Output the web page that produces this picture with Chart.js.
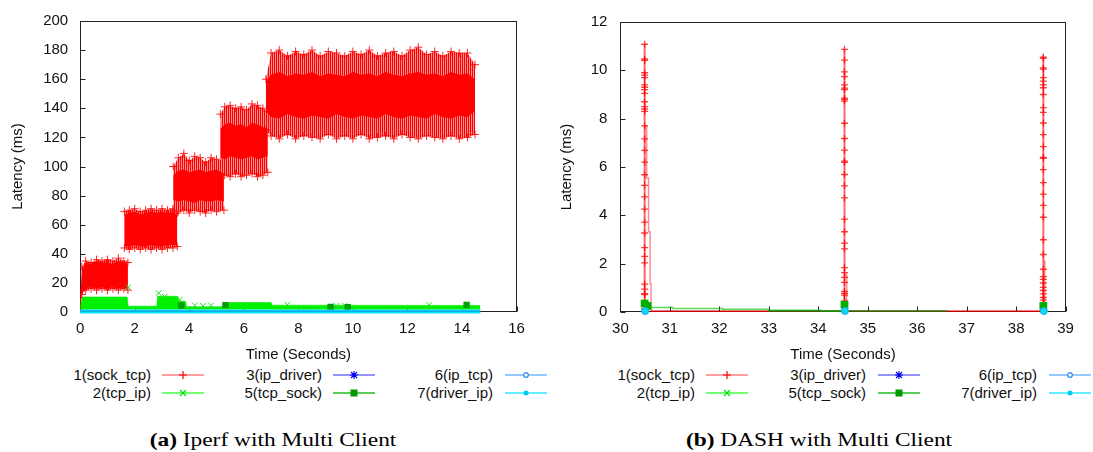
<!DOCTYPE html>
<html><head><meta charset="utf-8">
<script src="https://cdn.jsdelivr.net/npm/chart.js@4.4.0/dist/chart.umd.min.js"></script>
<style>
body{margin:0;background:#fff;width:1093px;height:452px;overflow:hidden;position:relative;font-family:"Liberation Sans",Arial,sans-serif;}
canvas{position:absolute;top:0;}
.lt{position:absolute;font-size:15px;line-height:18px;color:#111;white-space:nowrap;transform:translateX(-100%);}
.ls{position:absolute;}
.cap{position:absolute;top:429px;font-family:"Liberation Serif","Times New Roman",serif;font-size:19px;line-height:22px;color:#000;white-space:nowrap;transform:translateX(-50%) scaleX(1.23);}
</style>
</head><body>
<canvas id="ca" width="540" height="366" style="left:0"></canvas>
<canvas id="cb" width="553" height="366" style="left:540px"></canvas>
<div class="cap" style="left:273px"><b>(a)</b> Iperf with Multi Client</div>
<div class="cap" style="left:819px"><b>(b)</b> DASH with Multi Client</div>
<script>
// ---------------- (a) Iperf with Multi Client ----------------
const aXTicks = [0, 2, 4, 6, 8, 10, 12, 14, 16];
const aYTicks = [0, 20, 40, 60, 80, 100, 120, 140, 160, 180, 200];
// sock_tcp bands: per step, time points with outer (sparse) and core (dense) envelopes
const sockT = [
  [0, 0.06, 0.2, 0.4, 0.6, 0.8, 1.0, 1.2, 1.4, 1.6, 1.75],
  [1.62, 1.8, 2.0, 2.2, 2.4, 2.6, 2.8, 3.0, 3.2, 3.4, 3.56],
  [3.41, 3.6, 3.8, 4.0, 4.2, 4.4, 4.6, 4.8, 5.0, 5.27],
  [5.14, 5.3, 5.5, 5.7, 5.9, 6.1, 6.3, 6.5, 6.7, 6.88],
  [6.81, 7.0, 7.3, 7.6, 7.9, 8.2, 8.5, 8.8, 9.1, 9.4, 9.7, 10.0, 10.3, 10.6, 10.9, 11.2, 11.5, 11.8, 12.1, 12.4, 12.7, 13.0, 13.3, 13.6, 13.9, 14.2, 14.48]
];
const sockOutHi = [
  [10, 31, 35, 34, 36, 35, 36, 35, 37, 35, 34],
  [69, 70, 71, 69, 70, 71, 70, 71, 70, 71, 68],
  [100, 106, 109, 104, 107, 106, 103, 106, 105, 104],
  [136, 141, 142, 140, 141, 139, 143, 142, 140, 138],
  [160, 178, 180, 176, 179, 177, 180, 176, 179, 178, 176, 179, 177, 180, 176, 178, 179, 176, 180, 182, 177, 179, 176, 179, 178, 178, 170]
];
const sockOutLo = [
  [2, 12, 15, 16, 15, 16, 15, 16, 15, 16, 15],
  [44, 43, 44, 43, 44, 43, 44, 43, 44, 44, 45],
  [70, 69, 70, 68, 70, 69, 68, 70, 69, 70],
  [95, 94, 93, 95, 93, 94, 95, 93, 94, 96],
  [125, 121, 119, 122, 119, 121, 120, 119, 122, 119, 121, 119, 122, 119, 120, 121, 119, 122, 120, 119, 121, 120, 119, 121, 119, 120, 122]
];
const sockCoreHi = [
  [7, 28, 34, 33, 35, 34, 34, 33, 35, 34, 33],
  [67, 68, 69, 67, 68, 69, 68, 69, 68, 69, 66],
  [94, 97, 98, 96, 97, 98, 96, 97, 98, 95],
  [126, 129, 130, 128, 129, 127, 130, 129, 127, 126],
  [158, 163, 165, 162, 164, 163, 165, 162, 164, 163, 162, 165, 163, 164, 162, 165, 163, 162, 164, 165, 163, 164, 162, 165, 163, 164, 160]
];
const sockCoreLo = [
  [3, 13, 16, 17, 16, 17, 16, 17, 16, 17, 16],
  [45, 45, 46, 45, 45, 46, 45, 45, 46, 46, 46],
  [77, 76, 77, 76, 75, 77, 76, 76, 77, 76],
  [106, 105, 107, 106, 105, 106, 107, 105, 106, 107],
  [138, 134, 133, 136, 134, 133, 135, 134, 133, 136, 134, 133, 135, 134, 133, 136, 134, 133, 135, 134, 133, 136, 134, 133, 135, 134, 138]
];
// tcp_ip band
const tcpIpT  = [0.0, 0.05, 0.1, 1.72, 1.76, 2.81, 2.84, 3.58, 3.62, 3.86, 3.9, 5.2, 5.24, 7.0, 7.04, 14.67];
const tcpIpHi = [3, 8, 10.3, 10.3, 4, 4, 10.8, 10.8, 7.4, 7.4, 3.6, 3.6, 6.5, 6.5, 4.7, 4.5];
const tcpIpLo = [1.8, 1.8, 1.8, 1.8, 1.8, 1.8, 1.8, 1.8, 1.8, 1.8, 1.8, 1.8, 1.8, 1.8, 1.8, 1.8];
const tcpIpMarkT = [1.76, 2.88, 3.1, 3.65, 4.2, 4.5, 4.8, 7.6, 9.4, 9.7, 12.8];
const tcpIpMarkV = [17, 13, 10.5, 8.5, 4.5, 4.2, 4.4, 5.0, 4.2, 4.5, 4.8];
// tcp_sock squares
const tcpSockT = [3.71, 5.33, 9.18, 9.81, 14.17];
const tcpSockV = [4.5, 4.7, 3.5, 3.3, 4.8];
// lower series (ip_driver, ip_tcp, driver_ip) near zero
const lowT = [0, 14.67];
const ipDriverA = [0.6, 0.6];
const ipTcpA = [0.35, 0.35];
const driverIpA = [0.3, 0.3];

// ---------------- (b) DASH with Multi Client ----------------
const bXTicks = [30, 31, 32, 33, 34, 35, 36, 37, 38, 39];
const bYTicks = [0, 2, 4, 6, 8, 10, 12];
const spikeT = [30.49, 34.53, 38.55];
const spikeV = [
  [0, 0.14, 0.4, 0.72, 0.76, 0.95, 1.15, 2.03, 2.3, 2.66, 3.27, 3.72, 4.26, 4.76, 5.24, 5.68, 6.2, 6.69, 7.16, 7.7, 8.3, 8.4, 8.5, 8.7, 9.05, 9.2, 9.3, 9.4, 9.7, 9.8, 9.9, 10.41, 10.47, 11.08],
  [0, 0.42, 0.45, 0.7, 0.77, 0.85, 1.23, 1.43, 1.63, 1.84, 2.61, 2.85, 3.32, 3.84, 4.72, 5.22, 5.69, 6.19, 6.24, 6.7, 7.18, 7.81, 8.73, 8.8, 8.85, 9.2, 9.26, 9.4, 9.74, 9.94, 10.42, 10.87],
  [0, 0.28, 0.49, 0.6, 0.75, 0.89, 1.02, 1.2, 1.35, 1.46, 1.77, 2.38, 2.99, 3.92, 4.41, 4.88, 5.35, 5.89, 6.36, 6.4, 6.84, 7.34, 7.82, 8.26, 8.46, 9.0, 9.28, 9.4, 9.55, 9.7, 10.05, 10.1, 10.5, 10.55]
];
const decayT = [
  [30.49, 30.53, 30.53, 30.57, 30.57, 30.60, 30.60, 30.62, 30.62, 30.66],
  [34.53, 34.575, 34.575, 34.6],
  [38.55, 38.58, 38.58, 38.6]
];
const decayV = [
  [7.7, 7.7, 5.55, 5.55, 3.32, 3.32, 1.17, 1.17, 0.03, 0.03],
  [1.55, 1.55, 0.03, 0.03],
  [2.1, 2.1, 0.03, 0.03]
];
const sockBaseT = [30.62, 38.55];
const sockBaseV = [0.03, 0.03];
const bTcpIpT = [30.49, 30.63, 31.06, 31.06, 32.07, 32.07, 33.0, 33.0, 34.05, 34.05, 34.53];
const bTcpIpV = [0.25, 0.19, 0.19, 0.15, 0.15, 0.11, 0.11, 0.07, 0.07, 0.03, 0.03];
const bTcpSockT = [30.49, 30.55, 34.53, 38.55];
const bTcpSockV = [0.35, 0.25, 0.3, 0.25];
const bTcpSockLineT = [33.0, 36.6];
const bTcpSockLineV = [0.04, 0.04];
const bLowT = [30.5, 34.54, 38.56];
const bLowV = [0.04, 0.04, 0.04];

// ---------------- legend ----------------
const legendCols = [['1(sock_tcp)', '2(tcp_ip)'], ['3(ip_driver)', '5(tcp_sock)'], ['6(ip_tcp)', '7(driver_ip)']];
const legendStyle = {
  '1(sock_tcp)': {line: '#ff8080', mark: 'plus', mc: '#ff0000'},
  '2(tcp_ip)': {line: '#44ff44', mark: 'x', mc: '#00e000'},
  '3(ip_driver)': {line: '#7070ff', mark: 'star', mc: '#0000ee'},
  '5(tcp_sock)': {line: '#22bb22', mark: 'square', mc: '#009900'},
  '6(ip_tcp)': {line: '#70b8ff', mark: 'circle', mc: '#2288ee'},
  '7(driver_ip)': {line: '#30e8ff', mark: 'dot', mc: '#00ccee'}
};

const FONT = '"Liberation Sans", Arial, sans-serif';
const pts = (xs, ys) => xs.map((x, i) => ({x: x, y: ys[i]}));
const ptsAt = (x, ys) => ys.map(y => ({x: x, y: y}));

function hatch() {
  const c = document.createElement('canvas'); c.width = 2; c.height = 4;
  const g = c.getContext('2d');
  g.fillStyle = '#ff9090'; g.fillRect(0, 0, 2, 4);
  g.fillStyle = '#ff0000'; g.fillRect(0, 0, 1, 4);
  return g.createPattern(c, 'repeat');
}

const frame = {
  id: 'frame',
  beforeDatasetsDraw(chart) {
    const {ctx, chartArea: a, scales: {x, y}} = chart;
    ctx.save();
    ctx.strokeStyle = '#222'; ctx.lineWidth = 1;
    const L = Math.round(a.left) + 0.5, R = Math.round(a.right) - 0.5, T = Math.round(a.top) + 0.5, B = Math.round(a.bottom) - 0.5;
    ctx.strokeRect(L, T, R - L, B - T);
    ctx.beginPath();
    x.ticks.forEach(t => { const p = Math.round(x.getPixelForValue(t.value)) + 0.5; ctx.moveTo(p, B); ctx.lineTo(p, B - 5); });
    y.ticks.forEach(t => { const p = Math.round(y.getPixelForValue(t.value)) + 0.5; ctx.moveTo(L, p); ctx.lineTo(L + 5, p); });
    ctx.stroke();
    ctx.restore();
  }
};

function options(xT, yT, yWidth, padRight, yTitlePad, yTickPad) {
  return {
    responsive: false, animation: false, events: [],
    layout: {padding: {top: 16, right: padRight, bottom: 2, left: 0}},
    plugins: {legend: {display: false}, tooltip: {enabled: false}},
    elements: {line: {tension: 0}, point: {radius: 0}},
    scales: {
      x: {type: 'linear', min: xT[0], max: xT[xT.length - 1],
        afterBuildTicks: s => { s.ticks = xT.map(v => ({value: v})); },
        afterFit: s => { s.height = 52; },
        grid: {display: false, drawTicks: false}, border: {display: false},
        ticks: {padding: 8, color: '#111', font: {family: FONT, size: 15}, maxRotation: 0, autoSkip: false},
        title: {display: true, text: 'Time (Seconds)', color: '#111', font: {family: FONT, size: 15}, padding: {top: 0, bottom: 0}}},
      y: {type: 'linear', min: yT[0], max: yT[yT.length - 1],
        afterBuildTicks: s => { s.ticks = yT.map(v => ({value: v})); },
        afterFit: s => { s.width = yWidth; },
        grid: {display: false, drawTicks: false}, border: {display: false},
        ticks: {padding: yTickPad, color: '#111', font: {family: FONT, size: 15}, autoSkip: false},
        title: {display: true, text: 'Latency (ms)', color: '#111', font: {family: FONT, size: 15}, padding: {top: yTitlePad, bottom: 0}}}
    }
  };
}

function makeDS() {
  let layer = 0;
  const list = [];
  const add = (data, o) => {
    layer++;
    list.push(Object.assign({data: data, order: 1000 - layer, pointRadius: 0, borderWidth: 1,
      borderColor: 'rgba(0,0,0,0)', backgroundColor: 'rgba(0,0,0,0)', fill: false}, o));
  };
  return {list, add};
}

// ----- chart (a)
const A = makeDS();
const hp = hatch();
sockT.forEach((t, i) => {
  A.add(pts(t, sockOutHi[i]), {fill: '+1', backgroundColor: hp, pointRadius: 4, pointStyle: 'cross', pointBorderColor: 'rgba(255,0,0,0.85)', pointBorderWidth: 1});
  A.add(pts(t, sockOutLo[i]), {pointRadius: 4, pointStyle: 'cross', pointBorderColor: 'rgba(255,0,0,0.85)', pointBorderWidth: 1});
});
sockT.forEach((t, i) => {
  A.add(pts(t, sockCoreHi[i]), {fill: '+1', backgroundColor: '#ff0000'});
  A.add(pts(t, sockCoreLo[i]), {});
});
A.add(pts(tcpIpT, tcpIpHi), {fill: '+1', backgroundColor: '#00f000', borderColor: 'rgba(0,230,0,0.6)'});
A.add(pts(tcpIpT, tcpIpLo), {});
A.add(pts(tcpIpMarkT, tcpIpMarkV), {showLine: false, pointRadius: 4, pointStyle: 'crossRot', pointBorderColor: '#22dd22', pointBorderWidth: 1});
A.add(pts(tcpSockT, tcpSockV), {showLine: false, pointRadius: 4.5, pointStyle: 'rect', pointBackgroundColor: '#00a000', pointBorderColor: '#00a000', pointBorderWidth: 0});
A.add(pts(lowT, ipTcpA), {borderColor: '#66b0ff', borderWidth: 3, clip: false});
A.add(pts(lowT, driverIpA), {borderColor: '#00e8f8', borderWidth: 4, clip: false});
A.add(pts(lowT, ipDriverA), {borderColor: 'rgba(40,60,200,0.55)', borderWidth: 1, clip: false});

new Chart(document.getElementById('ca'), {type: 'line', data: {datasets: A.list},
  options: options(aXTicks, aYTicks, 80.2, 23.5, 8.6, 12), plugins: [frame]});

// ----- chart (b)
const B = makeDS();
B.add(pts(sockBaseT, sockBaseV), {borderColor: '#c80000', borderWidth: 1.5, clip: false});
spikeT.forEach((t, i) => {
  B.add(pts(decayT[i], decayV[i]), {borderColor: 'rgba(255,0,0,0.45)', borderWidth: 1.5});
  B.add(ptsAt(t, spikeV[i]), {borderColor: 'rgba(255,0,0,0.6)', borderWidth: 2, pointRadius: 3.5, pointStyle: 'cross',
    pointBorderColor: 'rgba(255,0,0,0.75)', pointBorderWidth: 1.3});
});
B.add(pts(bTcpIpT, bTcpIpV), {borderColor: 'rgba(0,200,0,0.65)', borderWidth: 1.5});
B.add(pts(bTcpSockLineT, bTcpSockLineV), {borderColor: 'rgba(0,140,0,0.8)', borderWidth: 1.5, clip: false});
B.add(pts(bTcpSockT, bTcpSockV), {showLine: false, pointRadius: 5.5, pointStyle: 'rect', pointBackgroundColor: '#00b000', pointBorderColor: '#00b000', pointBorderWidth: 0, clip: false});
B.add(pts(bLowT, bLowV), {showLine: false, pointRadius: 3.5, pointStyle: 'circle', pointBackgroundColor: '#00e0f0', pointBorderColor: '#3399ff', pointBorderWidth: 1, clip: false});

new Chart(document.getElementById('cb'), {type: 'line', data: {datasets: B.list},
  options: options(bXTicks, bYTicks, 80.4, 27.4, 17.5, 13), plugins: [frame]});

// ----- legends
function markSVG(s) {
  const c = s.mc;
  let m = '';
  if (s.mark === 'plus') m = `<path d="M17 7H25M21 3V11" stroke="${c}" stroke-width="1.2"/>`;
  if (s.mark === 'x') m = `<path d="M18 4L24 10M24 4L18 10" stroke="${c}" stroke-width="1.1"/>`;
  if (s.mark === 'star') m = `<path d="M17 7H25M21 3V11M18 4L24 10M24 4L18 10" stroke="${c}" stroke-width="1.1"/>`;
  if (s.mark === 'square') m = `<rect x="17.5" y="3.5" width="7" height="7" fill="${c}"/>`;
  if (s.mark === 'circle') m = `<circle cx="21" cy="7" r="2.3" fill="#fff" stroke="${c}" stroke-width="1.2"/>`;
  if (s.mark === 'dot') m = `<circle cx="21" cy="7" r="2.5" fill="${c}"/>`;
  return `<svg width="42" height="14" viewBox="0 0 42 14"><line x1="0" y1="7" x2="42" y2="7" stroke="${s.line}" stroke-width="1.5"/>${m}</svg>`;
}
const legendRowY = [375, 393];
const legendPos = [
  {textRight: [151, 322, 493], sample: [162, 333, 505]},
  {textRight: [695, 866, 1037], sample: [706, 878, 1049]}
];
legendPos.forEach(p => {
  legendCols.forEach((col, ci) => {
    col.forEach((name, ri) => {
      const t = document.createElement('div');
      t.className = 'lt'; t.textContent = name;
      t.style.left = p.textRight[ci] + 'px'; t.style.top = (legendRowY[ri] - 9) + 'px';
      document.body.appendChild(t);
      const s = document.createElement('div');
      s.className = 'ls'; s.innerHTML = markSVG(legendStyle[name]);
      s.style.left = p.sample[ci] + 'px'; s.style.top = (legendRowY[ri] - 7) + 'px';
      document.body.appendChild(s);
    });
  });
});
</script>
</body></html>
